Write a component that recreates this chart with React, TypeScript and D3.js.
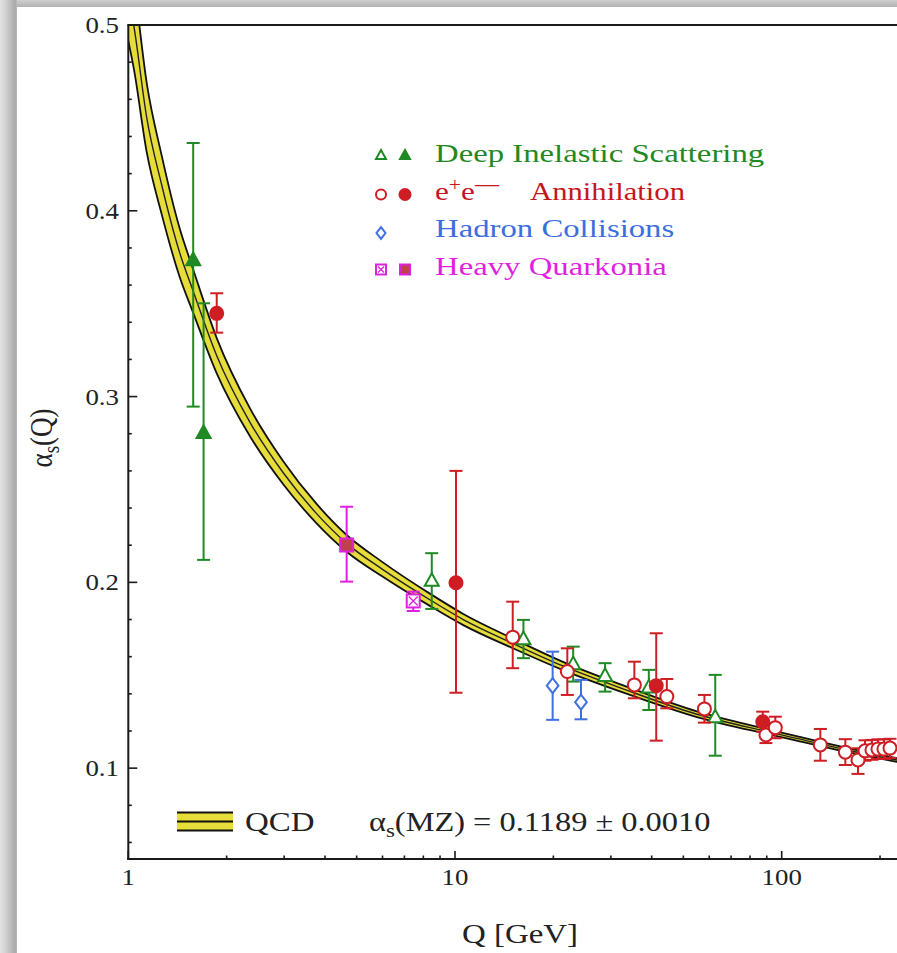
import React from "react";
import * as d3 from "d3";

// ---------- data ----------
// QCD running coupling band (centre line and half width)
const curveQ = [1.0, 1.041, 1.139, 1.265, 1.433, 1.578, 1.865, 2.36, 2.98, 3.77, 4.66, 6.0, 8.4, 10.6, 15.1, 21.4, 33.5, 55, 91.2, 111, 158, 225, 300];
const curveAlpha = [0.516, 0.499, 0.45, 0.414, 0.378, 0.357, 0.322, 0.286, 0.259, 0.237, 0.221, 0.207, 0.1905, 0.18, 0.167, 0.155, 0.142, 0.129, 0.1195, 0.116, 0.1098, 0.1044, 0.1005];
const curveHalf = [0.0245, 0.023, 0.0186, 0.0158, 0.0131, 0.0117, 0.0095, 0.0075, 0.0062, 0.0052, 0.0045, 0.0039, 0.0033, 0.003, 0.0026, 0.0022, 0.0019, 0.0015, 0.0013, 0.0012, 0.0011, 0.001, 0.00093];

// Deep Inelastic Scattering
const disQ = [1.58, 1.7, 8.49, 16.2, 23.0, 28.8, 39.2, 62.6];
const disA = [0.373, 0.28, 0.2004, 0.169, 0.1555, 0.1492, 0.143, 0.1269];
const disHi = [0.4365, 0.3502, 0.2157, 0.1798, 0.1654, 0.1565, 0.1529, 0.1502];
const disLo = [0.2946, 0.2121, 0.1857, 0.1592, 0.1466, 0.1412, 0.1313, 0.1067];
const disFilled = [true, true, false, false, false, false, false, false];

// e+e- Annihilation
const eeQ = [1.865, 10.07, 15.02, 22.07, 35.4, 41.3, 44.5, 58, 87.5, 89.5, 95.6, 131.3, 156.6, 171.2, 179.9, 188.9, 197.1, 205.6, 214.5];
const eeA = [0.3448, 0.1998, 0.1705, 0.152, 0.1448, 0.1444, 0.1385, 0.1319, 0.125, 0.1179, 0.1218, 0.1125, 0.1086, 0.1044, 0.1093, 0.1098, 0.1103, 0.1103, 0.1108];
const eeHi = [0.3556, 0.26, 0.1896, 0.1645, 0.1573, 0.1726, 0.148, 0.1394, 0.1304, 0.1225, 0.1277, 0.1211, 0.1156, 0.1107, 0.115, 0.1152, 0.1155, 0.1155, 0.1158];
const eeLo = [0.3344, 0.1406, 0.1538, 0.1394, 0.1376, 0.1148, 0.1322, 0.1245, 0.1196, 0.1135, 0.1161, 0.104, 0.1017, 0.0969, 0.104, 0.1045, 0.105, 0.105, 0.1055];
const eeFilled = [true, true, false, false, false, true, false, false, true, false, false, false, false, false, false, false, false, false, false];

// Hadron Collisions
const hadQ = [19.9, 24.3];
const hadA = [0.1444, 0.1355];
const hadHi = [0.1627, 0.1475];
const hadLo = [0.126, 0.1263];

// Heavy Quarkonia
const hqQ = [4.66, 7.45];
const hqA = [0.2201, 0.19];
const hqHi = [0.2407, 0.195];
const hqLo = [0.2004, 0.1846];
const hqFilled = [true, false];

// axes
const yTicks = [0.1, 0.2, 0.3, 0.4, 0.5];
const yTickLabels = ["0.1", "0.2", "0.3", "0.4", "0.5"];
const xTicks = [1, 10, 100];
const xTickLabels = ["1", "10", "100"];

const legendLabels = ["Deep Inelastic Scattering", "Annihilation", "Hadron Collisions", "Heavy Quarkonia"];

// ---------- layout ----------
const W = 897;
const H = 953;
const FONT = "'Liberation Serif', 'Times New Roman', serif";
const LEFT = 128.3;
const TOP = 25;
const BOTTOM = 859;
const DECADE = 326.7;
const X_MAX = 300;
const Y_MIN = 0.0511;
const Y_MAX = 0.5;

const GREEN = "#1f8a24";
const RED = "#cf1d24";
const BLUE = "#3f6fe0";
const MAGENTA = "#e020e0";
const YELLOW = "#e6dc3a";

const x = d3.scaleLog().domain([1, X_MAX]).range([LEFT, LEFT + DECADE * Math.log10(X_MAX)]);
const y = d3.scaleLinear().domain([Y_MIN, Y_MAX]).range([BOTTOM, TOP]);

type Kind = "tri" | "circle" | "diamond" | "square";

function Marker({ kind, cx, cy, color, filled, s }: { kind: Kind; cx: number; cy: number; color: string; filled: boolean; s: number }) {
  const sw = 2;
  if (kind === "tri") {
    const h = s * 0.9;
    const pts = [[cx, cy - (2 * h) / 3], [cx - s / 2, cy + h / 3], [cx + s / 2, cy + h / 3]];
    return <polygon points={pts.map((p) => p.join(",")).join(" ")} fill={filled ? color : "#fff"} stroke={color} strokeWidth={sw} strokeLinejoin="miter" />;
  }
  if (kind === "circle") {
    return <circle cx={cx} cy={cy} r={s / 2} fill={filled ? color : "#fff"} stroke={color} strokeWidth={sw} />;
  }
  if (kind === "diamond") {
    const pts = [[cx, cy - s * 0.58], [cx + s * 0.45, cy], [cx, cy + s * 0.58], [cx - s * 0.45, cy]];
    return <polygon points={pts.map((p) => p.join(",")).join(" ")} fill="#fff" stroke={color} strokeWidth={sw} />;
  }
  const hs = s / 2;
  return (
    <g>
      <rect x={cx - hs} y={cy - hs} width={s} height={s} fill={filled ? "#c0404e" : "#fff"} stroke={color} strokeWidth={sw} />
      {!filled && (
        <path d={`M${cx - hs + 2},${cy - hs + 2}L${cx + hs - 2},${cy + hs - 2}M${cx + hs - 2},${cy - hs + 2}L${cx - hs + 2},${cy + hs - 2}`} stroke={color} strokeWidth={1.3} />
      )}
    </g>
  );
}

function Series({ q, a, hi, lo, filled, kind, color, s }: { q: number[]; a: number[]; hi: number[]; lo: number[]; filled: boolean[]; kind: Kind; color: string; s: number }) {
  const cap = 6.5;
  return (
    <g>
      {q.map((qq, i) => {
        const cx = x(qq);
        return (
          <g key={"e" + i} stroke={color} strokeWidth={2} fill="none">
            <line x1={cx} x2={cx} y1={y(hi[i])} y2={y(lo[i])} />
            <line x1={cx - cap} x2={cx + cap} y1={y(hi[i])} y2={y(hi[i])} />
            <line x1={cx - cap} x2={cx + cap} y1={y(lo[i])} y2={y(lo[i])} />
          </g>
        );
      })}
      {q.map((qq, i) => (
        <Marker key={"m" + i} kind={kind} cx={x(qq)} cy={y(a[i])} color={color} filled={filled[i]} s={s} />
      ))}
    </g>
  );
}

function SText({ x: tx, y: ty, sx = 1.22, size, anchor = "start", fill = "#222", children }: any) {
  return (
    <text transform={`translate(${tx},${ty}) scale(${sx},1)`} fontFamily={FONT} fontSize={size} textAnchor={anchor} fill={fill}>
      {children}
    </text>
  );
}

export default function App() {
  const band = curveQ.map((q, i) => ({ q, a: curveAlpha[i], h: curveHalf[i] }));
  const area = d3
    .area<any>()
    .x((d) => x(d.q))
    .y0((d) => y(d.a - d.h))
    .y1((d) => y(d.a + d.h))
    .curve(d3.curveMonotoneX);
  const lineC = d3.line<any>().x((d) => x(d.q)).y((d) => y(d.a)).curve(d3.curveMonotoneX);
  const lineU = d3.line<any>().x((d) => x(d.q)).y((d) => y(d.a + d.h)).curve(d3.curveMonotoneX);
  const lineL = d3.line<any>().x((d) => x(d.q)).y((d) => y(d.a - d.h)).curve(d3.curveMonotoneX);

  const xMinor = x.ticks().filter((t) => !xTicks.includes(t));
  const yMinor = d3.range(0.06, 0.5, 0.02).filter((v) => Math.abs(v * 10 - Math.round(v * 10)) > 1e-6);

  const legendY = [155, 192.5, 230, 267.5];
  const legX1 = 381;
  const legX2 = 405;
  const legText = 435;

  return (
    <svg width={W} height={H} viewBox={`0 0 ${W} ${H}`} style={{ position: "absolute", left: 0, top: 0, background: "#fff" }}>
      <defs>
        <linearGradient id="gl" x1="0" x2="1" y1="0" y2="0">
          <stop offset="0" stopColor="#e2e2e2" />
          <stop offset="0.35" stopColor="#d0d0d0" />
          <stop offset="0.9" stopColor="#a9a9a9" />
          <stop offset="1" stopColor="#bdbdbd" />
        </linearGradient>
        <linearGradient id="gt" x1="0" x2="0" y1="0" y2="1">
          <stop offset="0" stopColor="#cfcfcf" />
          <stop offset="1" stopColor="#b2b2b2" />
        </linearGradient>
        <clipPath id="plot">
          <rect x={LEFT} y={TOP} width={W - LEFT} height={BOTTOM - TOP} />
        </clipPath>
      </defs>

      {/* photo frame */}
      <rect x={0} y={0} width={W} height={7} fill="url(#gt)" />
      <rect x={0} y={0} width={17} height={H} fill="url(#gl)" />

      {/* QCD band */}
      <g clipPath="url(#plot)">
        <path d={area(band) || ""} fill={YELLOW} />
        <path d={lineU(band) || ""} fill="none" stroke="#111" strokeWidth={1.8} />
        <path d={lineL(band) || ""} fill="none" stroke="#111" strokeWidth={1.8} />
        <path d={lineC(band) || ""} fill="none" stroke="#222" strokeWidth={1.4} />
      </g>

      {/* data */}
      <Series q={disQ} a={disA} hi={disHi} lo={disLo} filled={disFilled} kind="tri" color={GREEN} s={14} />
      <Series q={hqQ} a={hqA} hi={hqHi} lo={hqLo} filled={hqFilled} kind="square" color={MAGENTA} s={13} />
      <Series q={hadQ} a={hadA} hi={hadHi} lo={hadLo} filled={[false, false]} kind="diamond" color={BLUE} s={13} />
      <Series q={eeQ} a={eeA} hi={eeHi} lo={eeLo} filled={eeFilled} kind="circle" color={RED} s={13} />

      {/* axes frame */}
      <g stroke="#1a1a1a" strokeWidth={2} fill="none">
        <line x1={LEFT} x2={LEFT} y1={TOP} y2={BOTTOM + 1} />
        <line x1={LEFT - 1} x2={W} y1={BOTTOM} y2={BOTTOM} />
        <line x1={LEFT - 1} x2={W} y1={TOP} y2={TOP} />
      </g>
      {/* y ticks */}
      <g stroke="#1a1a1a" strokeWidth={1.6}>
        {yTicks.map((t) => (
          <line key={"yt" + t} x1={LEFT} x2={LEFT + 9} y1={y(t)} y2={y(t)} />
        ))}
        {yMinor.map((t) => (
          <line key={"ym" + t} x1={LEFT} x2={LEFT + 3.5} y1={y(t)} y2={y(t)} />
        ))}
        {xTicks.map((t) => (
          <line key={"xt" + t} x1={x(t)} x2={x(t)} y1={BOTTOM} y2={BOTTOM - 8} />
        ))}
        {xMinor.map((t) => (
          <line key={"xm" + t} x1={x(t)} x2={x(t)} y1={BOTTOM} y2={BOTTOM - 3.5} />
        ))}
      </g>
      {yTicks.map((t, i) => (
        <SText key={"yl" + t} x={119} y={y(t) + 8} sx={1.12} size={24} anchor="end">
          {yTickLabels[i]}
        </SText>
      ))}
      {xTicks.map((t, i) => (
        <SText key={"xl" + t} x={x(t)} y={BOTTOM + 26} sx={1.12} size={24} anchor="middle">
          {xTickLabels[i]}
        </SText>
      ))}

      {/* axis titles */}
      <SText x={520} y={943} size={27} anchor="middle">
        Q [GeV]
      </SText>
      <text transform="translate(52,438) rotate(-90) scale(1,1.2)" fontFamily={FONT} fontSize={27} textAnchor="middle" fill="#222">
        α<tspan fontSize={19} dy={6}>s</tspan>
        <tspan dy={-6}>(Q)</tspan>
      </text>

      {/* legend */}
      <Marker kind="tri" cx={legX1} cy={legendY[0] + 1} color={GREEN} filled={false} s={10} />
      <Marker kind="tri" cx={legX2} cy={legendY[0] + 1} color={GREEN} filled={true} s={10} />
      <Marker kind="circle" cx={legX1} cy={legendY[1] + 2} color={RED} filled={false} s={10} />
      <Marker kind="circle" cx={legX2} cy={legendY[1] + 2} color={RED} filled={true} s={11} />
      <Marker kind="diamond" cx={legX1} cy={legendY[2] + 3} color={BLUE} filled={false} s={10} />
      <Marker kind="square" cx={legX1} cy={legendY[3] + 2} color={MAGENTA} filled={false} s={10} />
      <Marker kind="square" cx={legX2} cy={legendY[3] + 2} color={MAGENTA} filled={true} s={10} />

      <SText x={legText} y={legendY[0] + 7} sx={1.26} size={26} fill="#1f8a24">
        {legendLabels[0]}
      </SText>
      <SText x={legText} y={legendY[1] + 7} sx={1.2} size={26} fill="#c4161c">
        e<tspan fontSize={18} dy={-9}>+</tspan>
        <tspan dy={9}>e</tspan>
        <tspan fontSize={20} dy={-9}>—</tspan>
      </SText>
      <SText x={530} y={legendY[1] + 7} sx={1.18} size={26} fill="#c4161c">
        {legendLabels[1]}
      </SText>
      <SText x={legText} y={legendY[2] + 7} sx={1.26} size={26} fill="#3d6ee0">
        {legendLabels[2]}
      </SText>
      <SText x={legText} y={legendY[3] + 7} sx={1.26} size={26} fill="#e11fe0">
        {legendLabels[3]}
      </SText>

      {/* QCD legend */}
      <rect x={177} y={812} width={56} height={19} fill={YELLOW} />
      <g stroke="#111" strokeWidth={2}>
        <line x1={177} x2={233} y1={812.5} y2={812.5} />
        <line x1={177} x2={233} y1={821.5} y2={821.5} />
        <line x1={177} x2={233} y1={830.5} y2={830.5} />
      </g>
      <SText x={245} y={831} size={27}>
        QCD
      </SText>
      <SText x={369} y={831} size={27} sx={1.2}>
        α<tspan fontSize={19} dy={6}>s</tspan>
        <tspan dy={-6}>(MZ) = 0.1189 ± 0.0010</tspan>
      </SText>
    </svg>
  );
}
